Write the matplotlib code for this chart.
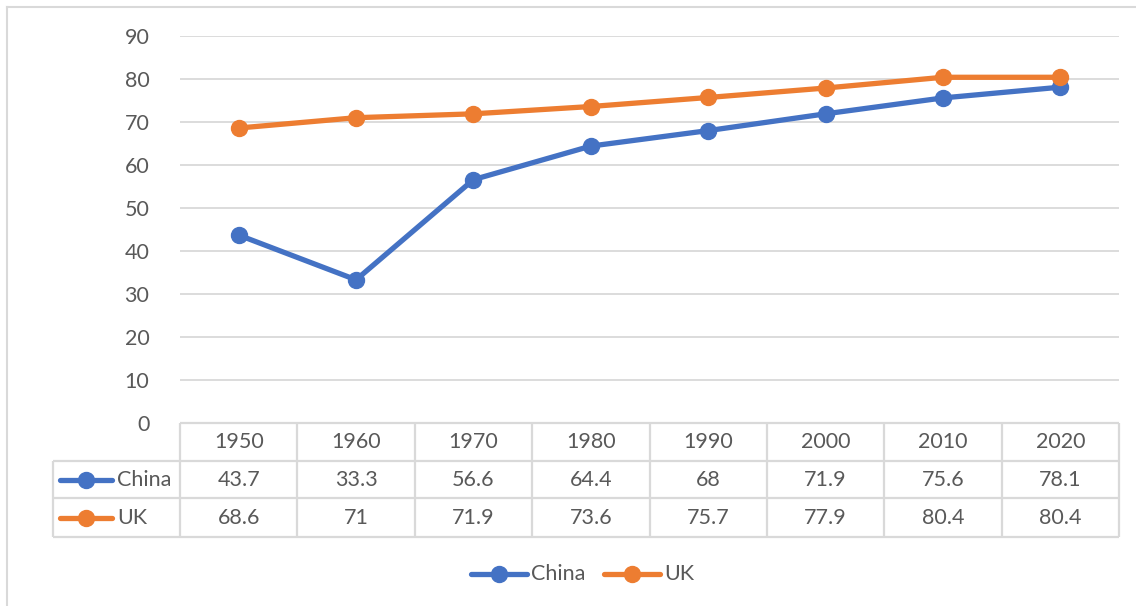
import matplotlib

matplotlib.use("Agg")
import matplotlib.pyplot as plt
from matplotlib.lines import Line2D

plt.rcParams["font.family"] = ["Lato", "DejaVu Sans"]

years = [1950, 1960, 1970, 1980, 1990, 2000, 2010, 2020]
china = [43.7, 33.3, 56.6, 64.4, 68, 71.9, 75.6, 78.1]
uk = [68.6, 71, 71.9, 73.6, 75.7, 77.9, 80.4, 80.4]
series = [("China", china, "#4472C4"), ("UK", uk, "#ED7D31")]

TXT, GRID = "#595959", "#D9D9D9"
W, H = 1136, 606
FS = 15.5

# pixel layout
PX0, PX1, PY_TOP, PY0 = 180, 1119, 36, 423
ROW_Y = [423, 461, 498, 537]
LAB_X0 = 53

fig = plt.figure(figsize=(W / 100, H / 100), dpi=100)

# overlay in pixel coordinates for the table, border, legend
ov = fig.add_axes([0, 0, 1, 1])
ov.set_xlim(0, W)
ov.set_ylim(H, 0)
ov.axis("off")

ax = fig.add_axes([PX0 / W, 1 - PY0 / H, (PX1 - PX0) / W, (PY0 - PY_TOP) / H])
x = list(range(len(years)))
for name, vals, col in series:
    ax.plot(x, vals, color=col, lw=3.8, marker="o", ms=11.5, solid_capstyle="round", zorder=3)
ax.set_xlim(-0.5, len(years) - 0.5)
ax.set_ylim(0, 90)
ax.set_yticks(range(0, 91, 10))
ax.set_xticks([])
ax.grid(axis="y", color=GRID, lw=1.3)
ax.set_axisbelow(True)
for s in ax.spines.values():
    s.set_visible(False)
ax.tick_params(axis="y", length=0, pad=22, labelsize=FS, labelcolor=TXT)
ax.patch.set_alpha(0)

# chart border
ov.plot([7, 7], [7, H], color=GRID, lw=1.5)
ov.plot([7, W], [7, 7], color=GRID, lw=1.5)

# table
colw = (PX1 - PX0) / len(years)
lc = dict(color=GRID, lw=1.6, solid_capstyle="butt")
ov.plot([PX0, PX1], [ROW_Y[0], ROW_Y[0]], **lc)
for y in ROW_Y[1:]:
    ov.plot([LAB_X0, PX1], [y, y], **lc)
for k in range(len(years) + 1):
    ov.plot([PX0 + k * colw] * 2, [ROW_Y[0], ROW_Y[-1]], **lc)
ov.plot([LAB_X0, LAB_X0], [ROW_Y[1], ROW_Y[-1]], **lc)

for i, yr in enumerate(years):
    cx = PX0 + (i + 0.5) * colw
    ov.text(cx, (ROW_Y[0] + ROW_Y[1]) / 2, str(yr), ha="center", va="center",
            fontsize=FS, color=TXT)
for r, (name, vals, col) in enumerate(series):
    cy = (ROW_Y[r + 1] + ROW_Y[r + 2]) / 2
    for i, v in enumerate(vals):
        ov.text(PX0 + (i + 0.5) * colw, cy, f"{v:g}", ha="center", va="center",
                fontsize=FS, color=TXT)
    ov.add_line(Line2D([60, 112], [cy, cy], color=col, lw=3.8, solid_capstyle="round"))
    ov.plot([86], [cy], "o", color=col, ms=11.5)
    ov.text(117, cy, name, ha="left", va="center", fontsize=FS, color=TXT)

# bottom legend
LY = 574
lx = [471, 604]
for (name, vals, col), x0 in zip(series, lx):
    ov.add_line(Line2D([x0, x0 + 56], [LY, LY], color=col, lw=3.8, solid_capstyle="round"))
    ov.plot([x0 + 28], [LY], "o", color=col, ms=11.5)
    ov.text(x0 + 60, LY, name, ha="left", va="center", fontsize=FS, color=TXT)

fig.savefig("out.png", dpi=100, facecolor="white")
